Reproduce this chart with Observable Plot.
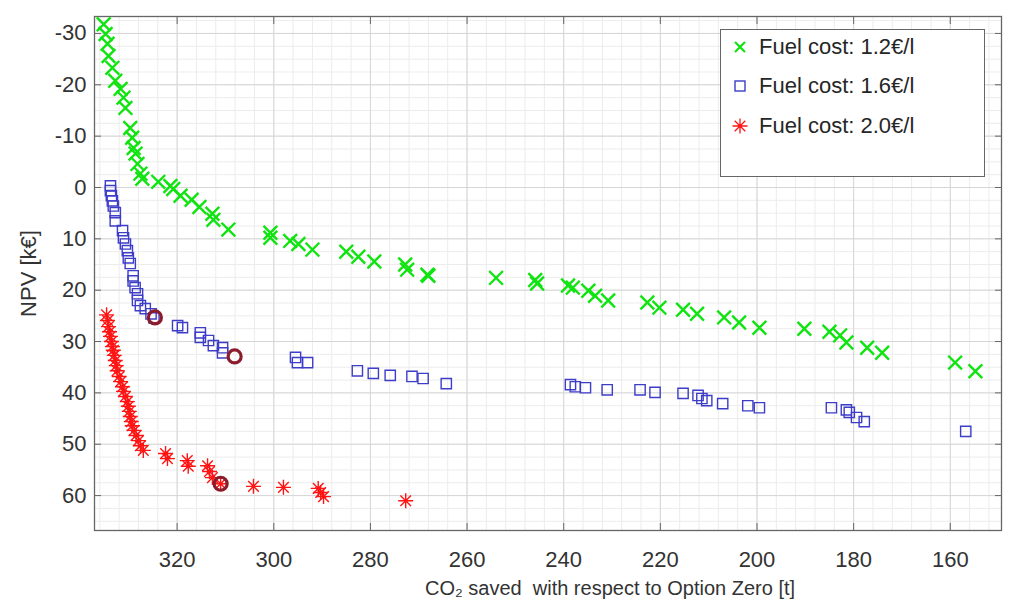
<!DOCTYPE html>
<html><head><meta charset="utf-8">
<script src="https://cdn.jsdelivr.net/npm/d3@7"></script>
<script src="https://cdn.jsdelivr.net/npm/@observablehq/plot@0.6"></script>
<style>
body{margin:0;background:#fff;font-family:"Liberation Sans",Arial,sans-serif;}
#wrap{position:relative;width:1017px;height:609px;}
#legend{position:absolute;left:720px;top:29px;width:265px;height:148px;border:1.5px solid #666;background:#fff;box-sizing:border-box;}
.row{position:absolute;left:0;height:30px;display:flex;align-items:center;font-size:22px;color:#262626;white-space:nowrap;}
.row svg{margin-left:8px;margin-right:8px;}
</style></head><body><div id="wrap"></div>
<script>
// Fuel cost 1.2 €/l
const co2_12 = [335.2,334.8,334.4,334.2,333.4,332.8,331.7,331.1,330.7,329.7,329.3,329.0,328.6,328.2,327.6,327.2,323.9,321.4,320.8,319.3,317.0,315.4,312.7,312.5,309.4,300.7,300.7,296.6,294.9,292.0,285.0,282.5,279.2,272.8,272.4,268.2,268.0,254.0,245.9,245.5,239.1,238.1,234.9,233.5,230.8,222.7,220.2,215.3,212.4,206.8,203.7,199.5,190.2,185.0,182.8,181.5,177.2,174.1,159.0,154.8];
const npv_12 = [-31.8,-29.9,-28.0,-25.6,-23.3,-20.8,-19.2,-17.5,-15.5,-11.6,-9.7,-7.7,-6.6,-4.6,-2.7,-1.7,-1.1,-0.3,0.3,1.6,2.4,3.8,5.1,6.3,8.2,8.8,9.8,10.4,11.0,12.1,12.5,13.5,14.4,15.0,16.0,17.0,17.2,17.6,18.0,18.7,19.1,19.5,20.1,21.1,22.0,22.4,23.4,23.8,24.6,25.3,26.3,27.3,27.5,28.1,28.8,30.2,31.2,32.2,34.1,35.8];
// Fuel cost 1.6 €/l
const co2_16 = [333.8,333.8,333.6,333.4,333.2,332.8,332.8,331.3,331.1,330.7,330.3,330.1,329.7,329.1,329.1,328.7,328.2,328.2,327.6,326.6,325.4,324.8,319.9,318.9,315.2,315.2,313.5,312.5,310.6,310.6,295.5,295.1,293.0,282.7,279.4,275.9,271.4,269.1,264.3,238.6,237.6,235.5,231.0,224.2,221.1,215.3,212.2,211.4,210.4,207.1,201.9,199.5,184.6,181.5,180.9,179.4,177.8,156.8];
const npv_16 = [-0.3,0.6,1.6,2.6,3.6,4.9,6.5,8.4,9.8,11.0,12.3,13.7,14.8,17.2,18.2,19.5,20.7,22.0,23.0,23.6,24.6,25.4,26.9,27.3,28.3,29.2,29.8,30.8,31.2,32.2,33.1,34.1,34.1,35.7,36.2,36.6,36.8,37.2,38.2,38.4,38.8,39.0,39.4,39.4,39.9,40.1,40.5,41.1,41.5,42.1,42.5,42.9,42.9,43.3,43.8,44.8,45.6,47.5];
// Fuel cost 2.0 €/l
const co2_20 = [334.6,334.4,334.2,334.0,333.8,333.6,333.4,333.2,333.0,332.8,332.6,332.4,332.0,331.7,331.3,331.1,330.7,330.3,330.1,329.9,329.7,329.5,329.3,328.9,328.5,328.0,327.6,327.0,322.4,322.0,317.9,317.7,313.7,313.3,312.7,311.0,304.2,298.0,290.8,290.3,289.7,272.7];
const npv_20 = [24.8,25.9,27.1,28.1,29.0,30.0,31.0,31.7,32.7,33.7,34.7,35.7,36.8,37.8,38.8,39.7,40.7,41.7,42.6,43.6,44.6,45.6,46.4,47.3,48.3,49.3,50.3,51.2,51.8,52.8,53.2,54.3,54.2,55.3,56.5,57.7,58.2,58.4,58.6,59.4,60.2,61.0];
// highlighted solutions
const hl_co2 = [324.6, 308.1, 311.0];
const hl_npv = [25.3, 32.9, 57.7];

const xTicks = [320,300,280,260,240,220,200,180,160];
const yTicks = [-30,-20,-10,0,10,20,30,40,50,60];
const xMinor = d3.range(152, 337, 4);
const yMinor = d3.range(-32.5, 67, 2.5);
const seriesLabels = ["Fuel cost: 1.2€/l","Fuel cost: 1.6€/l","Fuel cost: 2.0€/l"];
const seriesColors = ["#10e410","#3d3dc8","#ff1414"];
const xLabel = "CO₂ saved\u00a0 with respect to Option Zero [t]";
const yLabel = "NPV [k€]";

const zip = (xs, ys) => xs.map((x, i) => ({x, y: ys[i]}));
const s12 = zip(co2_12, npv_12), s16 = zip(co2_16, npv_16), s20 = zip(co2_20, npv_20), hl = zip(hl_co2, hl_npv);

const asterisk8 = {draw(ctx, size){ const r = Math.sqrt(size/Math.PI); for (let k=0;k<4;k++){const a=k*Math.PI/4; ctx.moveTo(r*Math.cos(a), r*Math.sin(a)); ctx.lineTo(-r*Math.cos(a), -r*Math.sin(a));} }};

const fmt = d => String(d);
const frameCol = "#666";
const chart = Plot.plot({
  width: 1017, height: 609,
  marginLeft: 94, marginRight: 16, marginTop: 16, marginBottom: 79,
  style: {fontFamily: '"Liberation Sans", Arial, sans-serif', fontSize: "22px", color: "#333", background: "#fff"},
  x: {type: "linear", domain: [337.1, 149.4]},
  y: {type: "linear", domain: [66.8, -33.3]},
  marks: [
    Plot.gridX(xMinor, {stroke: "#ececec", strokeOpacity: 1}),
    Plot.gridY(yMinor, {stroke: "#ececec", strokeOpacity: 1}),
    Plot.gridX(xTicks, {stroke: "#d6d6d6", strokeOpacity: 1}),
    Plot.gridY(yTicks, {stroke: "#d6d6d6", strokeOpacity: 1}),
    Plot.axisX(xTicks, {anchor: "bottom", tickSize: 0, tickPadding: 21, label: null, fill: "#333", tickFormat: fmt}),
    Plot.axisY(yTicks, {anchor: "left", tickSize: 0, tickPadding: 8, label: yLabel, labelAnchor: "center", labelOffset: 74, labelArrow: "none", fill: "#333", fontSize: 22, tickFormat: fmt, dy: 0}),
    Plot.axisX(xTicks, {anchor: "bottom", tickSize: -7, text: null, label: null, stroke: frameCol}),
    Plot.axisX(xTicks, {anchor: "top", tickSize: -7, text: null, label: null, stroke: frameCol}),
    Plot.axisY(yTicks, {anchor: "left", tickSize: -7, text: null, label: null, stroke: frameCol}),
    Plot.axisY(yTicks, {anchor: "right", tickSize: -7, text: null, label: null, stroke: frameCol}),
    Plot.frame({stroke: frameCol, strokeWidth: 1.3}),
    Plot.dot(s12, {x: "x", y: "y", symbol: "times", r: 6.3, stroke: seriesColors[0], strokeWidth: 2.4}),
    Plot.dot(s16, {x: "x", y: "y", symbol: "square", r: 5.8, stroke: seriesColors[1], strokeWidth: 1.4}),
    Plot.dot(s20, {x: "x", y: "y", symbol: asterisk8, r: 7.5, stroke: seriesColors[2], strokeWidth: 1.4}),
    Plot.dot(hl, {x: "x", y: "y", r: 6.5, stroke: "#8c1c2c", strokeWidth: 3.2, fill: "none"}),
    Plot.text([xLabel], {text: d => d, frameAnchor: "bottom", dx: 62, dy: 64, fontSize: 20, fill: "#333"})
  ]
});
const wrap = document.getElementById("wrap");
wrap.appendChild(chart);

// legend (inside plot area, top-right)
const legend = document.createElement("div");
legend.id = "legend";
const shapes = [
  `<svg width="22" height="22" viewBox="-11 -11 22 22"><path d="M-5,-5L5,5M-5,5L5,-5" stroke="${seriesColors[0]}" stroke-width="2.2"/></svg>`,
  `<svg width="22" height="22" viewBox="-11 -11 22 22"><rect x="-5" y="-5" width="10" height="10" fill="none" stroke="${seriesColors[1]}" stroke-width="1.4"/></svg>`,
  `<svg width="22" height="22" viewBox="-11 -11 22 22"><path d="M-7.5,0L7.5,0M0,-7.5L0,7.5M-5.3,-5.3L5.3,5.3M-5.3,5.3L5.3,-5.3" stroke="${seriesColors[2]}" stroke-width="1.3"/></svg>`
];
const rowTops = [2, 41, 81];
seriesLabels.forEach((lab, i) => {
  const r = document.createElement("div");
  r.className = "row";
  r.style.top = rowTops[i] + "px";
  r.innerHTML = shapes[i] + `<span>${lab}</span>`;
  legend.appendChild(r);
});
wrap.appendChild(legend);
</script>
</body></html>
